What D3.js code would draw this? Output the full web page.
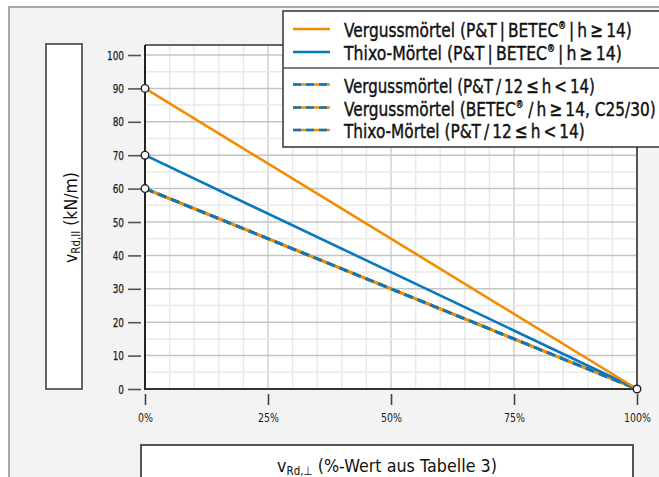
<!DOCTYPE html>
<html><head><meta charset="utf-8">
<script src="https://cdn.jsdelivr.net/npm/d3@7"></script>
<style>
html,body{margin:0;padding:0;background:#fff;}
svg{display:block;}
text{font-family:"DejaVu Sans","Noto Sans",sans-serif;}
</style>
</head><body>
<svg id="chart" width="659" height="477"></svg>
<script>
// ---- data ----
const xValues = [0, 100];                       // % of v_Rd,⊥
const vergussFull = [90, 0];                    // Vergussmörtel (P&T|BETEC®|h ≥ 14)
const thixoFull = [70, 0];                      // Thixo-Mörtel (P&T|BETEC®|h ≥ 14)
const vergussPT12 = [60, 0];                    // Vergussmörtel (P&T / 12 ≤ h < 14)
const vergussBetecC25 = [60, 0];                // Vergussmörtel (BETEC® / h ≥ 14, C25/30)
const thixoPT12 = [60, 0];                      // Thixo-Mörtel (P&T / 12 ≤ h < 14)
const yTicks = [0, 10, 20, 30, 40, 50, 60, 70, 80, 90, 100];
const xTicks = [0, 25, 50, 75, 100];
const xTickLabels = ["0%", "25%", "50%", "75%", "100%"];

const series = [
  {name: ["Vergussmörtel (P&T\u2009|\u2009BETEC", "®", "\u2009|\u2009h\u2009≥\u200914)"], values: vergussFull, type: "orange"},
  {name: ["Thixo-Mörtel (P&T\u2009|\u2009BETEC", "®", "\u2009|\u2009h\u2009≥\u200914)"], values: thixoFull, type: "blue"},
  {name: ["Vergussmörtel (P&T\u2009/\u200912\u2009≤\u2009h\u2009<\u200914)"], values: vergussPT12, type: "dash"},
  {name: ["Vergussmörtel (BETEC", "®", " /\u2009h\u2009≥\u200914, C25/30)"], values: vergussBetecC25, type: "dash"},
  {name: ["Thixo-Mörtel (P&T\u2009/\u200912\u2009≤\u2009h\u2009<\u200914)"], values: thixoPT12, type: "dash"}
];

const ORANGE = "#f28c00", BLUE = "#0a78bf";
const svg = d3.select("#chart");

function fit(sel, w) {
  sel.attr("textLength", w).attr("lengthAdjust", "spacingAndGlyphs");
}
// condensed multi-part text via horizontal scale transform
function condensed(parent, tx, ty, rot, anchor, size, targetW, build) {
  const outer = parent.append("g").attr("transform", `translate(${tx},${ty}) rotate(${rot})`);
  const inner = outer.append("g");
  const t = inner.append("text").attr("x", 0).attr("y", 0).attr("text-anchor", anchor)
    .attr("font-size", size).attr("fill", "#111");
  build(t);
  const w = t.node().getComputedTextLength();
  inner.attr("transform", `scale(${targetW / w},1)`);
  return t;
}

// panel
svg.append("rect").attr("x", 9).attr("y", 7).attr("width", 660).attr("height", 480)
  .attr("fill", "#f4f3f4").attr("stroke", "#aaaaaa").attr("stroke-width", 2);

const x = d3.scaleLinear().domain([0, 100]).range([145, 637]);
const y = d3.scaleLinear().domain([0, 100]).range([389, 55]);
const plotTop = 45;

// plot background
svg.append("rect").attr("x", x(0)).attr("y", plotTop).attr("width", x(100) - x(0)).attr("height", y(0) - plotTop).attr("fill", "#fff");

// grid
const g = svg.append("g");
d3.range(5, 100, 5).forEach(v => {
  g.append("line").attr("x1", x(v)).attr("x2", x(v)).attr("y1", plotTop).attr("y2", y(0))
    .attr("stroke", v % 25 === 0 ? "#d2d2d2" : "#e9e9e9").attr("stroke-width", 1.5);
});
d3.range(5, 105, 5).filter(v => y(v) > plotTop).forEach(v => {
  g.append("line").attr("x1", x(0)).attr("x2", x(100)).attr("y1", y(v)).attr("y2", y(v))
    .attr("stroke", v % 10 === 0 ? "#c4c4c4" : "#e9e9e9").attr("stroke-width", 1.5);
});

// frame
svg.append("line").attr("x1", x(0)).attr("x2", x(100)).attr("y1", plotTop).attr("y2", plotTop).attr("stroke", "#666").attr("stroke-width", 2);
svg.append("line").attr("x1", x(100)).attr("x2", x(100)).attr("y1", plotTop).attr("y2", y(0)).attr("stroke", "#555").attr("stroke-width", 2);

// axes
const yAxis = d3.axisLeft(y).tickValues(yTicks).tickSize(13).tickPadding(4).tickFormat(d3.format("d"));
const ya = svg.append("g").attr("transform", `translate(${x(0) - 4},0)`).call(yAxis);
ya.select(".domain").remove();
ya.selectAll(".tick line").attr("stroke", "#555").attr("stroke-width", 1.6);
ya.selectAll(".tick text").attr("font-size", 12.5).attr("fill", "#1a1a1a").attr("font-family", null)
  .attr("stroke", "#1a1a1a").attr("stroke-width", 0.25);
{
  let ref = 1;
  ya.selectAll(".tick text").each(function(d){ if (d === 100) ref = this.getComputedTextLength(); });
  const f = 17 / ref;
  ya.selectAll(".tick text").each(function(){ fit(d3.select(this), this.getComputedTextLength() * f); });
}

const xAxis = d3.axisBottom(x).tickValues(xTicks).tickSize(11).tickPadding(8).tickFormat((d, i) => xTickLabels[i]);
const xa = svg.append("g").attr("transform", `translate(0,${y(0) + 5})`).call(xAxis);
xa.select(".domain").remove();
xa.selectAll(".tick line").attr("stroke", "#444").attr("stroke-width", 1.6);
xa.selectAll(".tick text").attr("font-size", 12).attr("fill", "#1a1a1a").attr("font-family", null);
{
  let ref = 1;
  xa.selectAll(".tick text").each(function(d){ if (d === 100) ref = this.getComputedTextLength(); });
  const f = 27 / ref;
  xa.selectAll(".tick text").each(function(){ fit(d3.select(this), this.getComputedTextLength() * f); });
}

svg.append("line").attr("x1", x(0)).attr("x2", x(0)).attr("y1", plotTop).attr("y2", y(0) + 1).attr("stroke", "#222").attr("stroke-width", 2);
svg.append("line").attr("x1", x(0)).attr("x2", x(100)).attr("y1", y(0)).attr("y2", y(0)).attr("stroke", "#333").attr("stroke-width", 2);

// lines
const line = d3.line().x((d, i) => x(xValues[i])).y(d => y(d));
series.slice().reverse().forEach(s => {
  if (s.type === "dash") {
    svg.append("path").datum(s.values).attr("d", line).attr("fill", "none").attr("stroke", ORANGE).attr("stroke-width", 2.8);
    svg.append("path").datum(s.values).attr("d", line).attr("fill", "none").attr("stroke", BLUE).attr("stroke-width", 2.8).attr("stroke-dasharray", "9,5");
  } else {
    svg.append("path").datum(s.values).attr("d", line).attr("fill", "none").attr("stroke", s.type === "orange" ? ORANGE : BLUE).attr("stroke-width", 2.6);
  }
});

// endpoint markers
const pts = [];
series.forEach(s => s.values.forEach((v, i) => pts.push([xValues[i], v])));
const uniq = Array.from(new Set(pts.map(p => p.join(",")))).map(s => s.split(",").map(Number));
svg.selectAll("circle.pt").data(uniq).enter().append("circle")
  .attr("cx", d => x(d[0])).attr("cy", d => y(d[1])).attr("r", 3.8)
  .attr("fill", "#fff").attr("stroke", "#222").attr("stroke-width", 1.4);

// y-label box
svg.append("rect").attr("x", 46).attr("y", 44).attr("width", 36).attr("height", 345).attr("fill", "#fff").attr("stroke", "#333").attr("stroke-width", 1.5);
condensed(svg, 76.5, 217.5, -90, "middle", 18.5, 91, t => {
  t.append("tspan").text("v");
  t.append("tspan").attr("font-size", 12).attr("dy", 3).text("Rd,II");
  t.append("tspan").attr("dy", -3).text(" (kN/m)");
});

// x-label box
svg.append("rect").attr("x", 141).attr("y", 445).attr("width", 492).attr("height", 50).attr("fill", "#fff").attr("stroke", "#555").attr("stroke-width", 2);
condensed(svg, 387, 472, 0, "middle", 18.5, 220, t => {
  t.append("tspan").text("v");
  t.append("tspan").attr("font-size", 12).attr("dy", 3).text("Rd,⊥");
  t.append("tspan").attr("dy", -3).text(" (%-Wert aus Tabelle 3)");
});

// legend
const lg = svg.append("g");
lg.append("rect").attr("x", 283).attr("y", 11).attr("width", 400).attr("height", 136).attr("fill", "#fff").attr("stroke", "#333").attr("stroke-width", 1.5);
lg.append("line").attr("x1", 283).attr("x2", 683).attr("y1", 68).attr("y2", 68).attr("stroke", "#555").attr("stroke-width", 1.5);
const rowY = [29, 52, 84.5, 107.5, 130];
const rowBase = [36.8, 60.3, 92.8, 116.2, 138.4];
const rowW = [288, 278, 251, 312, 241];
series.forEach((s, i) => {
  const yy = rowY[i];
  if (s.type === "dash") {
    lg.append("line").attr("x1", 293).attr("x2", 330).attr("y1", yy).attr("y2", yy).attr("stroke", ORANGE).attr("stroke-width", 2.6);
    lg.append("line").attr("x1", 293).attr("x2", 330).attr("y1", yy).attr("y2", yy).attr("stroke", BLUE).attr("stroke-width", 2.6).attr("stroke-dasharray", "8,5");
  } else {
    lg.append("line").attr("x1", 293).attr("x2", 330).attr("y1", yy).attr("y2", yy).attr("stroke", s.type === "orange" ? ORANGE : BLUE).attr("stroke-width", 2.4);
  }
  const t = condensed(lg, 344, rowBase[i], 0, "start", 20, rowW[i], t => {
    let prevSup = false;
    s.name.forEach(part => {
      if (part === "®") { t.append("tspan").attr("font-size", 10).attr("dy", -8).text(part); prevSup = true; }
      else if (prevSup) { t.append("tspan").attr("dy", 8).text(part); prevSup = false; }
      else t.append("tspan").text(part);
    });
  });
  t.attr("stroke", "#111").attr("stroke-width", 0.45);
});
</script>
</body></html>
